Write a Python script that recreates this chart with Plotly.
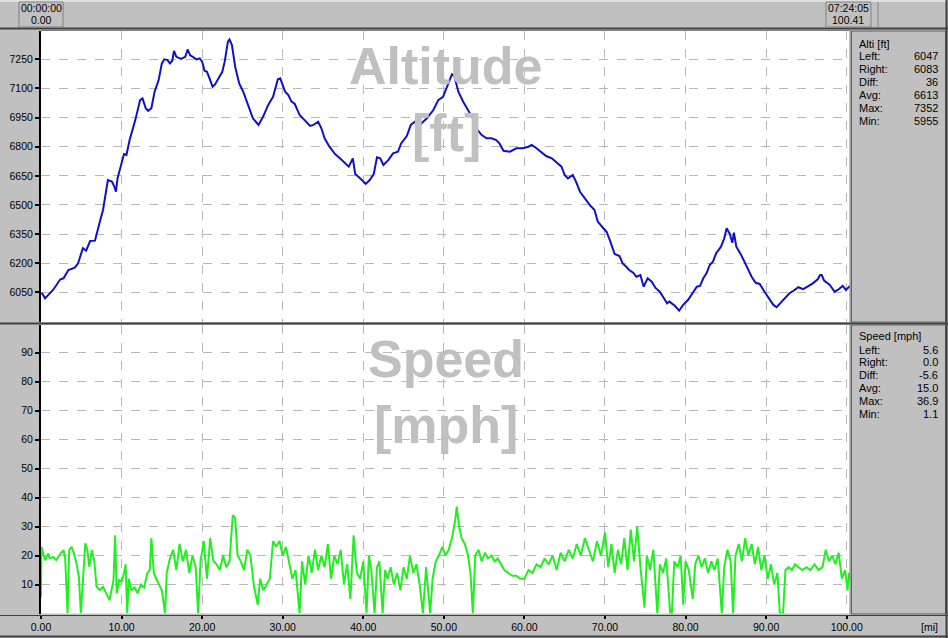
import plotly.graph_objects as go

W, H = 948, 638

# ---------------- data ----------------
alt_mi = [0.1, 0.5, 1.5, 2.4, 2.8, 3.4, 4.2, 4.6, 5.2, 5.6, 6.1, 6.7, 7.3, 7.7, 8.3, 8.8, 9.1, 9.3, 9.5,
          10.0, 10.3, 10.6, 11.0, 11.7, 12.3, 12.6, 13.0, 13.3, 13.7, 14.1, 14.6, 15.0, 15.3, 15.7, 16.0,
          16.3, 16.5, 16.8, 17.4, 17.9, 18.2, 18.5, 18.9, 19.3, 19.7, 20.0, 20.3, 20.6, 21.0, 21.3, 21.6,
          22.0, 22.5, 22.8, 23.2, 23.4, 23.7, 24.1, 24.6, 25.1, 25.7, 26.3, 27.0, 27.6, 28.2, 28.8, 29.4,
          29.7, 30.3, 30.7, 31.1, 31.5, 32.1, 32.5, 33.4, 33.8, 34.4, 34.8, 35.2, 35.8, 36.5, 37.1, 37.7,
          38.2, 38.7, 39.0, 39.6, 40.3, 40.8, 41.3, 41.7, 42.1, 42.5, 43.1, 43.7, 44.3, 44.7, 45.4, 45.9,
          46.4, 47.0, 47.9, 48.7, 49.3, 49.9, 50.3, 50.7, 51.0, 51.3, 51.8, 52.4, 53.0, 53.6, 54.0, 54.7,
          55.3, 55.9, 56.5, 56.9, 57.4, 58.2, 59.0, 59.8, 60.5, 60.9, 61.5, 62.1, 62.7, 63.4, 64.0, 64.6,
          65.0, 65.4, 66.0, 66.4, 66.9, 67.5, 68.1, 68.7, 69.1, 69.8, 70.2, 70.6, 71.2, 71.8, 72.2, 72.7,
          73.0, 73.5, 73.9, 74.4, 74.8, 75.3, 75.8, 76.3, 76.8, 77.2, 77.7, 78.0, 78.7, 79.2, 79.7, 80.3,
          80.9, 81.4, 81.8, 82.2, 82.6, 83.0, 83.4, 83.8, 84.4, 84.8, 85.1, 85.5, 85.8, 86.0, 86.3, 86.9,
          87.5, 88.2, 88.7, 89.2, 89.8, 90.4, 90.9, 91.3, 91.8, 92.3, 92.9, 93.4, 94.0, 94.6, 95.2, 95.8,
          96.4, 96.7, 96.9, 97.2, 97.9, 98.5, 98.9, 99.5, 99.9, 100.41]
alt_ft = [6047, 6019, 6062, 6117, 6122, 6165, 6177, 6199, 6277, 6264, 6314, 6316, 6414, 6474, 6628, 6620,
          6594, 6568, 6637, 6723, 6762, 6757, 6834, 6937, 7040, 7049, 6998, 6984, 6998, 7083, 7143, 7229,
          7250, 7246, 7229, 7243, 7294, 7263, 7252, 7263, 7301, 7272, 7260, 7250, 7255, 7238, 7191, 7186,
          7143, 7109, 7121, 7152, 7186, 7238, 7341, 7352, 7324, 7212, 7126, 7083, 7015, 6946, 6912, 6958,
          7015, 7057, 7147, 7152, 7083, 7066, 7032, 7020, 6963, 6946, 6907, 6912, 6929, 6895, 6843, 6800,
          6762, 6740, 6714, 6697, 6740, 6659, 6637, 6608, 6628, 6659, 6745, 6740, 6706, 6731, 6766, 6774,
          6817, 6855, 6912, 6929, 6912, 6946, 6989, 7040, 7057, 7101, 7143, 7173, 7164, 7083, 7032, 6989,
          6946, 6895, 6860, 6843, 6843, 6834, 6817, 6779, 6774, 6792, 6792, 6800, 6809, 6792, 6774, 6752,
          6740, 6717, 6697, 6654, 6637, 6654, 6620, 6568, 6534, 6500, 6474, 6414, 6380, 6362, 6319, 6247,
          6237, 6199, 6179, 6165, 6151, 6130, 6139, 6079, 6122, 6105, 6071, 6053, 6027, 5993, 6002, 5979,
          5955, 5985, 6010, 6045, 6079, 6083, 6122, 6148, 6191, 6208, 6251, 6285, 6328, 6380, 6350, 6305,
          6357, 6285, 6242, 6191, 6130, 6099, 6093, 6053, 6014, 5985, 5973, 5997, 6019, 6045, 6058, 6076,
          6066, 6079, 6096, 6117, 6139, 6139, 6110, 6088, 6053, 6062, 6083, 6062, 6083]

spd_mi = [0.0, 0.05, 0.5, 0.9, 1.1, 1.5, 1.9, 2.4, 2.8, 3.0, 3.3, 3.5, 3.8, 4.1, 4.4, 4.7, 4.95, 5.2, 5.5,
          5.75, 6.0, 6.3, 6.6, 6.9, 7.3, 7.7, 8.1, 8.5, 9.0, 9.2, 9.4, 9.7, 10.0, 10.3, 10.5, 10.7, 10.9,
          11.2, 11.6, 12.0, 12.4, 12.8, 13.2, 13.5, 13.7, 14.0, 14.3, 14.6, 15.0, 15.4, 15.6, 16.0, 16.4,
          16.8, 17.2, 17.6, 18.0, 18.4, 18.8, 19.2, 19.5, 19.8, 20.2, 20.6, 21.0, 21.4, 21.8, 22.2, 22.6,
          23.0, 23.4, 23.8, 24.1, 24.4, 24.8, 25.2, 25.6, 26.0, 26.4, 26.9, 27.2, 27.6, 28.0, 28.4, 28.8,
          29.2, 29.6, 30.0, 30.4, 30.8, 31.2, 31.6, 32.1, 32.4, 32.8, 33.2, 33.6, 34.0, 34.4, 34.8, 35.2,
          35.6, 36.0, 36.4, 36.8, 37.2, 37.6, 38.0, 38.4, 38.8, 39.2, 39.6, 40.0, 40.4, 40.7, 41.0, 41.4,
          41.7, 42.0, 42.4, 42.7, 43.0, 43.4, 43.8, 44.2, 44.6, 45.0, 45.4, 45.8, 46.2, 46.6, 47.0, 47.4,
          47.8, 48.3, 48.6, 49.0, 49.4, 49.8, 50.2, 50.6, 51.0, 51.4, 51.6, 51.9, 52.2, 52.6, 53.0, 53.3,
          53.6, 53.9, 54.3, 54.7, 55.1, 55.5, 55.9, 56.3, 56.7, 57.1, 57.5, 58.0, 58.5, 59.0, 59.5, 60.0,
          60.5, 61.0, 61.5, 62.0, 62.5, 63.0, 63.5, 64.0, 64.5, 65.0, 65.5, 66.0, 66.5, 67.0, 67.5, 68.0,
          68.5, 69.0, 69.5, 70.0, 70.4, 70.8, 71.2, 71.6, 72.0, 72.4, 72.8, 73.2, 73.6, 74.0, 74.4, 74.9,
          75.2, 75.6, 76.0, 76.5, 76.8, 77.2, 77.6, 78.1, 78.3, 78.6, 79.0, 79.4, 79.7, 80.0, 80.4, 80.9,
          81.2, 81.6, 82.0, 82.4, 82.8, 83.2, 83.6, 84.0, 84.5, 84.8, 85.2, 85.6, 85.9, 86.2, 86.6, 87.0,
          87.4, 87.8, 88.2, 88.6, 89.0, 89.4, 89.8, 90.2, 90.6, 91.0, 91.4, 91.7, 92.1, 92.4, 92.8, 93.2,
          93.6, 94.0, 94.5, 95.0, 95.5, 96.0, 96.5, 97.0, 97.4, 97.8, 98.2, 98.6, 99.0, 99.4, 99.8, 100.1,
          100.3, 100.41]
spd_mph = [5.6, 23, 18.4, 20.7, 19, 19.5, 18.4, 20.7, 21.9, 19, 0, 21.9, 23, 20.7, 17.3, 12.7, 0, 10.4, 24.2,
           21.9, 16.1, 21.9, 18.4, 9.2, 8.1, 9.2, 6.9, 4.6, 11.5, 27, 6.9, 11.5, 11, 14, 17, 0, 12,
           8, 9, 7, 10, 9, 14, 15, 26, 14, 12, 10, 8, 0, 14, 19, 22,
           15, 24, 18, 22, 14, 20, 16, 0, 18, 25, 12, 26, 18, 17, 15, 20,
           16, 18, 34, 33, 20, 18, 15, 22, 20, 10, 3, 12, 8, 10, 12, 25,
           23, 25, 20, 23, 18, 12, 15, 0, 18, 10, 20, 14, 22, 15, 20, 16,
           24, 12, 20, 17, 22, 10, 17, 5, 27, 14, 12, 18, 0, 20, 15, 0,
           16, 18, 0, 15, 12, 16, 10, 14, 8, 16, 12, 20, 14, 17, 10, 0,
           16, 0, 12, 18, 20, 23, 20, 22, 26, 32, 36.9, 30, 26, 24, 20, 14,
           0, 20, 22, 18, 21, 19, 20, 18, 19, 17, 15, 14, 13, 13, 12, 12,
           15, 14, 17, 16, 19, 17, 20, 15, 21, 18, 22, 19, 24, 20, 26, 22,
           18, 25, 20, 28, 16, 24, 14, 22, 17, 26, 15, 29, 18, 30, 16, 2,
           20, 15, 22, 0, 17, 14, 19, 0, 0, 18, 16, 20, 3, 18, 15, 5,
           17, 20, 16, 19, 14, 18, 15, 19, 0, 16, 22, 18, 0, 20, 24, 18,
           26, 20, 24, 17, 23, 15, 20, 12, 17, 10, 14, 0, 0, 15, 16, 15,
           17, 16, 15, 16, 15, 17, 15, 16, 22, 18, 20, 17, 21, 12, 15, 8,
           14, 12]

x_ticks = [0, 10, 20, 30, 40, 50, 60, 70, 80, 90, 100]
alt_ticks = [6050, 6200, 6350, 6500, 6650, 6800, 6950, 7100, 7250]
spd_ticks = [10, 20, 30, 40, 50, 60, 70, 80, 90]

alt_stats = [("Left:", "6047"), ("Right:", "6083"), ("Diff:", "36"), ("Avg:", "6613"), ("Max:", "7352"), ("Min:", "5955")]
spd_stats = [("Left:", "5.6"), ("Right:", "0.0"), ("Diff:", "-5.6"), ("Avg:", "15.0"), ("Max:", "36.9"), ("Min:", "1.1")]

# ---------------- helpers ----------------
def px(x):
    return x / W

def py(y):
    return 1 - y / H

FONT = "Liberation Sans, Arial, sans-serif"
GRAY = "#c0c0c0"

fig = go.Figure()
fig.add_trace(go.Scatter(x=alt_mi, y=alt_ft, xaxis="x2", yaxis="y2", mode="lines",
                         line=dict(color="#1010c8", width=2), hoverinfo="skip"))
fig.add_trace(go.Scatter(x=spd_mi, y=spd_mph, xaxis="x", yaxis="y", mode="lines",
                         line=dict(color="#22ee22", width=2), hoverinfo="skip"))

xdom = [px(41), px(850)]
common_x = dict(domain=xdom, range=[0, 100.41], tickvals=x_ticks, showgrid=True, automargin=False,
                gridcolor="#b8b8b8", griddash="dash", gridwidth=1, zeroline=False, fixedrange=True)
common_y = dict(showgrid=True, gridcolor="#b8b8b8", griddash="dash", gridwidth=1, zeroline=False,
                ticks="outside", ticklen=4, tickcolor="black", tickwidth=2, automargin=False,
                showline=True, linecolor="black", linewidth=2,
                tickfont=dict(family=FONT, size=10.5, color="black"), fixedrange=True)

fig.update_layout(
    width=W, height=H, margin=dict(l=0, r=0, t=0, b=0, autoexpand=False), autosize=False,
    paper_bgcolor=GRAY, plot_bgcolor="white", showlegend=False,
    xaxis=dict(**common_x, anchor="y", ticks="outside", ticklen=4, tickcolor="black", tickwidth=2,
               tickformat=".2f", tickfont=dict(family=FONT, size=10.5, color="black"), showline=False),
    yaxis=dict(**common_y, domain=[py(613.5), py(325)], range=[0, 99.6], tickvals=spd_ticks, anchor="x"),
    xaxis2=dict(**common_x, anchor="y2", matches="x", showticklabels=False, ticks="", showline=False),
    yaxis2=dict(**common_y, domain=[py(322), py(31)], range=[5897, 7396], tickvals=alt_ticks, anchor="x2"),
)

shapes = []
def rect(x0, y0, x1, y1, line="#404040", fill=None, w=1):
    shapes.append(dict(type="rect", xref="paper", yref="paper", x0=px(x0), x1=px(x1), y0=py(y1), y1=py(y0),
                       line=dict(color=line, width=w), fillcolor=fill if fill else "rgba(0,0,0,0)", layer="above"))

def hline(x0, x1, y, color, w=1):
    shapes.append(dict(type="line", xref="paper", yref="paper", x0=px(x0), x1=px(x1), y0=py(y), y1=py(y),
                       line=dict(color=color, width=w), layer="above"))

def vline(x, y0, y1, color, w=1):
    shapes.append(dict(type="line", xref="paper", yref="paper", x0=px(x), x1=px(x), y0=py(y0), y1=py(y1),
                       line=dict(color=color, width=w), layer="above"))

# top bar
hline(0, W, 28.5, "#404040", 2)
hline(0, W, 1, "#ffffff", 1)
rect(19, 2, 63, 27, line="#808080")
rect(826, 2, 871, 27, line="#808080")
vline(878, 2, 27, "#808080")
# plot frames
vline(850, 30, 322, "#808080")
vline(850, 325, 614, "#808080")
hline(41, 850, 30.5, "#808080")
hline(0, W, 323.5, "#404040", 2)
# right info panels
rect(851.5, 31, 945.5, 322, line="#606060")
rect(851.5, 325, 945.5, 614, line="#606060")
# bottom axis strip
hline(0, W, 615.5, "#404040", 1)
hline(0, W, 636.5, "#404040", 2)
vline(946.5, 0, 638, "#404040", 2)
fig.update_layout(shapes=shapes)

ann = []
def text(x, y, s, size=10.5, anchor="left", color="black", bold=False, yanchor="middle"):
    ann.append(dict(xref="paper", yref="paper", x=px(x), y=py(y), text=("<b>%s</b>" % s) if bold else s,
                    showarrow=False, xanchor=anchor, yanchor=yanchor,
                    font=dict(family=FONT, size=size, color=color)))

# watermark titles
text(446, 66, "Altitude", size=52, anchor="center", color="#c0c0c0", bold=True)
text(446, 133, "[ft]", size=52, anchor="center", color="#c0c0c0", bold=True)
text(446, 359, "Speed", size=52, anchor="center", color="#c0c0c0", bold=True)
text(446, 425, "[mph]", size=52, anchor="center", color="#c0c0c0", bold=True)

# top bar texts
text(41, 8, "00:00:00", anchor="center", size=10.5)
text(41, 20, "0.00", anchor="center", size=10.5)
text(848, 8, "07:24:05", anchor="center", size=10.5)
text(848, 20, "100.41", anchor="center", size=10.5)

# info panels
text(857, 44, "Alti [ft]", size=11)
for i, (k, v) in enumerate(alt_stats):
    yy = 55.5 + i * 13.1
    text(857, yy, k, size=11)
    text(940, yy, v, size=11, anchor="right")
text(857, 336, "Speed [mph]", size=11)
for i, (k, v) in enumerate(spd_stats):
    yy = 349.5 + i * 12.8
    text(857, yy, k, size=11)
    text(940, yy, v, size=11, anchor="right")

text(940, 627, "[mi]", size=10.5, anchor="right")
fig.update_layout(annotations=ann)

fig.write_html("out.html", config={"displayModeBar": False, "staticPlot": True},
               post_script="document.body.style.margin='0';document.body.style.overflow='hidden';")
